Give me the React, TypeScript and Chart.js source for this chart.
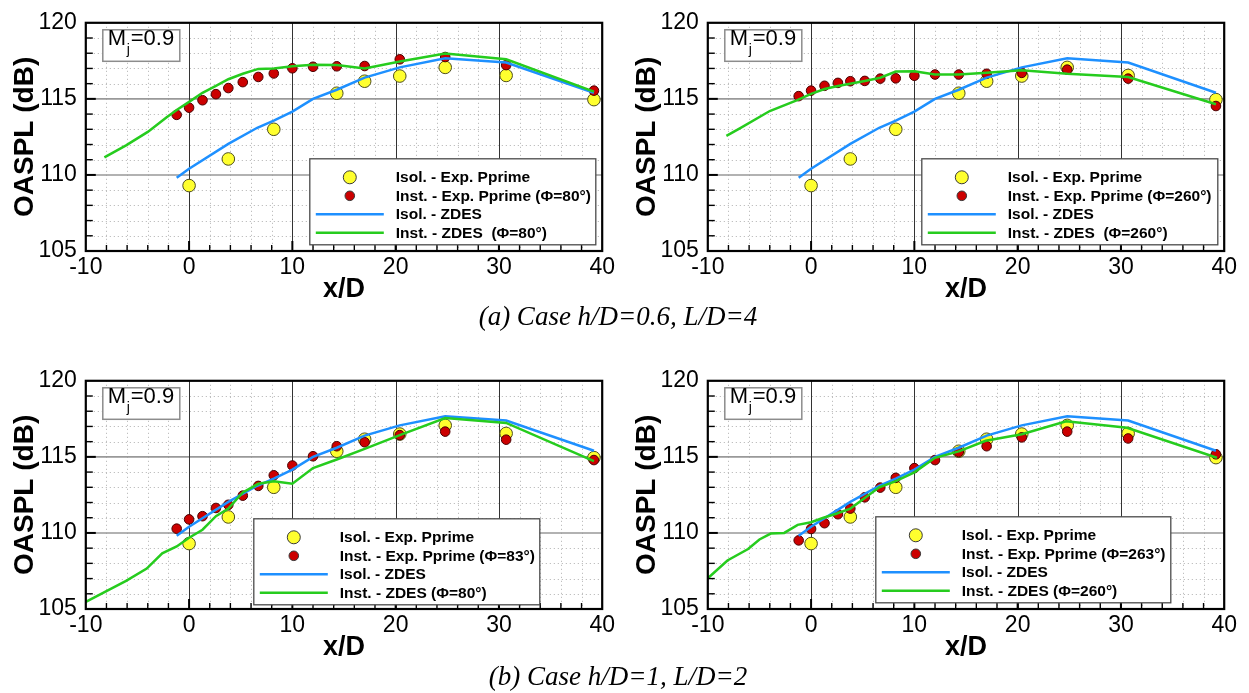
import React, { useEffect, useRef } from "react";
import { Chart, registerables } from "chart.js";

Chart.register(...registerables);

// ---- measured data (x/D, OASPL dB) ----
// microphone stations for the installed-jet measurements
const X_INST_EXP = [-1.2, 0, 1.3, 2.6, 3.8, 5.2, 6.7, 8.2, 10, 12, 14.3, 17, 20.4, 24.8, 30.7, 39.2];
// stations for the isolated-jet measurements
const X_ISOL_EXP = [0, 3.8, 8.2, 14.3, 17, 20.4, 24.8, 30.7, 39.2];
const Y_ISOL_EXP = [109.3, 111.05, 113.0, 115.37, 116.16, 116.5, 117.07, 116.54, 114.95];

const Y_INST_EXP_A = [113.95, 114.42, 114.91, 115.31, 115.71, 116.1, 116.44, 116.67, 117.01, 117.11, 117.14, 117.16, 117.6, 117.75, 117.22, 115.54];
const Y_INST_EXP_B = [115.18, 115.54, 115.86, 116.05, 116.16, 116.18, 116.33, 116.35, 116.52, 116.6, 116.6, 116.65, 116.71, 116.92, 116.33, 114.53];
const Y_INST_EXP_C = [110.28, 110.89, 111.1, 111.64, 111.85, 112.45, 113.09, 113.79, 114.43, 115.04, 115.7, 115.96, 116.43, 116.66, 116.13, 114.79];
const Y_INST_EXP_D = [109.51, 110.26, 110.64, 111.23, 111.6, 112.34, 112.98, 113.62, 114.26, 114.79, 115.32, 115.7, 116.28, 116.66, 116.21, 115.17];

// ---- ZDES simulations ----
const X_ISOL_ZDES = [-1.2, 0, 3.8, 6.6, 8.2, 10, 12, 14.3, 17, 20.4, 24.8, 30.7, 39.2];
const Y_ISOL_ZDES = [109.82, 110.41, 112.04, 113.1, 113.57, 114.16, 115.0, 115.6, 116.4, 117.07, 117.67, 117.39, 115.4];

const X_INST_ZDES_A = [-8.2, -6.1, -4.0, -2.2, -1.2, 0, 1.3, 2.6, 3.8, 5.2, 6.7, 8.2, 10, 12, 14.3, 17, 20.4, 24.8, 30.7, 39.2];
const Y_INST_ZDES_A = [111.15, 111.94, 112.83, 113.78, 114.27, 114.8, 115.4, 115.86, 116.29, 116.65, 116.97, 117.0, 117.14, 117.24, 117.22, 116.99, 117.45, 117.98, 117.6, 115.48];

const X_INST_ZDES_B = [-8.2, -6.9, -4.0, -1.4, 0, 1.3, 2.6, 5.2, 6.7, 8.2, 10, 12, 14.3, 17, 20.4, 24.8, 30.7, 39.2];
const Y_INST_ZDES_B = [112.57, 113.06, 114.2, 114.9, 115.33, 115.65, 115.85, 116.18, 116.39, 116.8, 116.82, 116.6, 116.6, 116.71, 116.88, 116.65, 116.44, 114.65];

const X_INST_ZDES_C = [-10, -6.1, -4.1, -2.6, -1.2, 0, 1.3, 2.6, 3.8, 5.2, 6.7, 8.2, 10, 12, 14.3, 17, 20.4, 24.8, 30.7, 39.2];
const Y_INST_ZDES_C = [105.47, 106.85, 107.66, 108.66, 109.11, 109.68, 110.21, 111.1, 111.6, 112.66, 113.23, 113.4, 113.23, 114.26, 114.83, 115.53, 116.43, 117.55, 117.23, 114.72];

const X_INST_ZDES_D = [-10, -8.1, -6.1, -5.0, -3.9, -2.6, -1.3, 0, 1.2, 2.5, 3.8, 5.2, 6.6, 8.2, 10, 12, 14.3, 16.9, 20.4, 24.7, 30.6, 39.3];
const Y_INST_ZDES_D = [107.02, 108.19, 108.94, 109.57, 109.96, 110.0, 110.53, 110.7, 111.0, 111.28, 111.6, 112.3, 113.0, 113.4, 113.98, 114.94, 115.36, 116.06, 116.49, 117.34, 116.91, 114.94];

// ---- axes ----
const X_MIN = -10;
const X_MAX = 40;
const Y_MIN = 105;
const Y_MAX = 120;
const X_LABEL_STEP = 10;
const Y_LABEL_STEP = 5;
const X_MINOR_STEP = 2;
const Y_MINOR_STEP = 1;

// ---- styling ----
const FONT = "'Liberation Sans', Arial, Helvetica, sans-serif";
const YELLOW = "#ffff2e";
const RED = "#cc0000";
const BLUE = "#1e90ff";
const GREEN = "#26cc1e";

const CANVAS_W = 624;
const CANVAS_H = 305;
const PLOT_LEFT = 85.8;
const PLOT_RIGHT = 602.2;
const PLOT_TOP = 15;
const PLOT_BOTTOM = 251;

type LegendRow = { kind: "marker" | "line"; color: string; r?: number; text: string };

type PanelCfg = {
  key: string;
  left: number;
  top: number;
  instExp: number[];
  zdesX: number[];
  zdesY: number[];
  legendBox: { dx: number; dy: number; w: number; h: number };
  rows: LegendRow[];
};

const pts = (xs: number[], ys: number[]) => xs.map((x, i) => ({ x, y: ys[i] }));

const makeRows = (instExpLabel: string, instZdesLabel: string): LegendRow[] => [
  { kind: "marker", color: YELLOW, r: 6.5, text: "Isol. - Exp. Pprime" },
  { kind: "marker", color: RED, r: 4.8, text: instExpLabel },
  { kind: "line", color: BLUE, text: "Isol. - ZDES" },
  { kind: "line", color: GREEN, text: instZdesLabel },
];

const PANELS: PanelCfg[] = [
  {
    key: "a1",
    left: 0,
    top: 0,
    instExp: Y_INST_EXP_A,
    zdesX: X_INST_ZDES_A,
    zdesY: Y_INST_ZDES_A,
    legendBox: { dx: 224, dy: 136, w: 286, h: 86 },
    rows: makeRows("Inst. - Exp. Pprime (Φ=80°)", "Inst. - ZDES  (Φ=80°)"),
  },
  {
    key: "a2",
    left: 622,
    top: 0,
    instExp: Y_INST_EXP_B,
    zdesX: X_INST_ZDES_B,
    zdesY: Y_INST_ZDES_B,
    legendBox: { dx: 214, dy: 136, w: 296, h: 86 },
    rows: makeRows("Inst. - Exp. Pprime (Φ=260°)", "Inst. - ZDES  (Φ=260°)"),
  },
  {
    key: "b1",
    left: 0,
    top: 358,
    instExp: Y_INST_EXP_C,
    zdesX: X_INST_ZDES_C,
    zdesY: Y_INST_ZDES_C,
    legendBox: { dx: 168, dy: 138, w: 286, h: 86 },
    rows: makeRows("Inst. - Exp. Pprime (Φ=83°)", "Inst. - ZDES (Φ=80°)"),
  },
  {
    key: "b2",
    left: 622,
    top: 358,
    instExp: Y_INST_EXP_D,
    zdesX: X_INST_ZDES_D,
    zdesY: Y_INST_ZDES_D,
    legendBox: { dx: 168, dy: 136, w: 295, h: 86 },
    rows: makeRows("Inst. - Exp. Pprime (Φ=263°)", "Inst. - ZDES (Φ=260°)"),
  },
];

// grid, frame, inward ticks, Mach box, legend and axis titles
const framePlugin = {
  id: "frame",
  beforeDatasetsDraw(chart: any) {
    const { ctx, chartArea: a, scales } = chart;
    const xs = scales.x;
    const ys = scales.y;
    ctx.save();
    ctx.lineWidth = 1;
    ctx.strokeStyle = "#b0b0b0";
    ctx.setLineDash([1, 3]);
    for (let v = X_MIN + X_MINOR_STEP; v < X_MAX; v += X_MINOR_STEP) {
      if (v % X_LABEL_STEP === 0) continue;
      const px = Math.round(xs.getPixelForValue(v)) + 0.5;
      ctx.beginPath();
      ctx.moveTo(px, a.top);
      ctx.lineTo(px, a.bottom);
      ctx.stroke();
    }
    for (let v = Y_MIN + Y_MINOR_STEP; v < Y_MAX; v += Y_MINOR_STEP) {
      if (v % Y_LABEL_STEP === 0) continue;
      const py = Math.round(ys.getPixelForValue(v)) + 0.5;
      ctx.beginPath();
      ctx.moveTo(a.left, py);
      ctx.lineTo(a.right, py);
      ctx.stroke();
    }
    ctx.setLineDash([]);
    ctx.strokeStyle = "#999999";
    ctx.lineWidth = 1.6;
    for (let v = Y_MIN + Y_LABEL_STEP; v < Y_MAX; v += Y_LABEL_STEP) {
      const py = ys.getPixelForValue(v);
      ctx.beginPath();
      ctx.moveTo(a.left, py);
      ctx.lineTo(a.right, py);
      ctx.stroke();
    }
    ctx.strokeStyle = "#333333";
    ctx.lineWidth = 1;
    for (let v = X_MIN + X_LABEL_STEP; v < X_MAX; v += X_LABEL_STEP) {
      const px = Math.round(xs.getPixelForValue(v)) + 0.5;
      ctx.beginPath();
      ctx.moveTo(px, a.top);
      ctx.lineTo(px, a.bottom);
      ctx.stroke();
    }
    ctx.restore();
  },
  afterDatasetsDraw(chart: any, _args: any, opts: any) {
    const { ctx, chartArea: a, scales } = chart;
    const xs = scales.x;
    const ys = scales.y;
    ctx.save();

    // inward tick marks
    ctx.strokeStyle = "#000";
    for (let v = X_MIN + X_MINOR_STEP; v < X_MAX; v += X_MINOR_STEP) {
      const major = v % X_LABEL_STEP === 0;
      const px = xs.getPixelForValue(v);
      ctx.lineWidth = major ? 2 : 1.4;
      ctx.beginPath();
      ctx.moveTo(px, a.bottom);
      ctx.lineTo(px, a.bottom - (major ? 10 : 6));
      ctx.stroke();
    }
    for (let v = Y_MIN + Y_MINOR_STEP; v < Y_MAX; v += Y_MINOR_STEP) {
      const major = v % Y_LABEL_STEP === 0;
      const py = ys.getPixelForValue(v);
      ctx.lineWidth = major ? 2 : 1.4;
      ctx.beginPath();
      ctx.moveTo(a.left, py);
      ctx.lineTo(a.left + (major ? 10 : 7), py);
      ctx.stroke();
    }

    // frame
    ctx.lineWidth = 2.2;
    ctx.strokeStyle = "#000";
    ctx.strokeRect(a.left, a.top, a.right - a.left, a.bottom - a.top);

    // Mach number box
    const mx = a.left + 17;
    const my = a.top + 7;
    ctx.fillStyle = "#fff";
    ctx.fillRect(mx, my, 77, 31.5);
    ctx.strokeStyle = "#8c8c8c";
    ctx.lineWidth = 1.5;
    ctx.strokeRect(mx, my, 77, 31.5);
    ctx.fillStyle = "#000";
    ctx.textAlign = "left";
    ctx.textBaseline = "alphabetic";
    ctx.font = `22px ${FONT}`;
    let tx = a.left + 22;
    const base = a.top + 22.5;
    ctx.fillText("M", tx, base);
    tx += ctx.measureText("M").width + 0.5;
    ctx.font = `14px ${FONT}`;
    ctx.fillText("j", tx, base + 9);
    tx += ctx.measureText("j").width + 1;
    ctx.font = `22px ${FONT}`;
    ctx.fillText("=0.9", tx, base);

    // legend
    const lb = opts.legendBox;
    const lx = a.left + lb.dx;
    const ly = a.top + lb.dy;
    ctx.fillStyle = "#fff";
    ctx.fillRect(lx, ly, lb.w, lb.h);
    ctx.strokeStyle = "#4a4a4a";
    ctx.lineWidth = 1.3;
    ctx.strokeRect(lx, ly, lb.w, lb.h);
    const rowY = [18.5, 37, 55.5, 74];
    (opts.rows as LegendRow[]).forEach((row, i) => {
      const cy = ly + rowY[i];
      if (row.kind === "marker") {
        ctx.beginPath();
        ctx.arc(lx + 40, cy, row.r || 5, 0, Math.PI * 2);
        ctx.fillStyle = row.color;
        ctx.fill();
        ctx.lineWidth = 1;
        ctx.strokeStyle = "#3a3a3a";
        ctx.stroke();
      } else {
        ctx.beginPath();
        ctx.moveTo(lx + 6, cy);
        ctx.lineTo(lx + 74, cy);
        ctx.lineWidth = 2.6;
        ctx.strokeStyle = row.color;
        ctx.stroke();
      }
      ctx.fillStyle = "#000";
      ctx.font = `bold 15.5px ${FONT}`;
      ctx.textBaseline = "middle";
      ctx.fillText(row.text, lx + 86, cy + 0.5);
    });

    // axis titles
    ctx.fillStyle = "#000";
    ctx.textAlign = "center";
    ctx.textBaseline = "middle";
    ctx.font = `bold 27px ${FONT}`;
    ctx.fillText("x/D", (a.left + a.right) / 2, a.bottom + 39);
    ctx.translate(a.left - 62, (a.top + a.bottom) / 2);
    ctx.rotate(-Math.PI / 2);
    ctx.font = `bold 28px ${FONT}`;
    ctx.fillText("OASPL (dB)", 0, 1);
    ctx.restore();
  },
};

function buildConfig(cfg: PanelCfg): any {
  const tickFont = { family: FONT, size: 23 };
  return {
    type: "scatter",
    data: {
      datasets: [
        {
          label: "Isol. - Exp. Pprime",
          data: pts(X_ISOL_EXP, Y_ISOL_EXP),
          showLine: false,
          pointRadius: 6.3,
          pointBackgroundColor: YELLOW,
          pointBorderColor: "#4d4d20",
          pointBorderWidth: 1,
          order: 4,
        },
        {
          label: cfg.rows[1].text,
          data: pts(X_INST_EXP, cfg.instExp),
          showLine: false,
          pointRadius: 4.8,
          pointBackgroundColor: RED,
          pointBorderColor: "#4a0000",
          pointBorderWidth: 1,
          order: 3,
        },
        {
          label: "Isol. - ZDES",
          data: pts(X_ISOL_ZDES, Y_ISOL_ZDES),
          showLine: true,
          borderColor: BLUE,
          borderWidth: 2.5,
          pointRadius: 0,
          order: 2,
        },
        {
          label: cfg.rows[3].text,
          data: pts(cfg.zdesX, cfg.zdesY),
          showLine: true,
          borderColor: GREEN,
          borderWidth: 2.5,
          pointRadius: 0,
          order: 1,
        },
      ],
    },
    options: {
      animation: false,
      responsive: false,
      devicePixelRatio: 1,
      events: [],
      layout: { padding: { top: PLOT_TOP, right: CANVAS_W - PLOT_RIGHT, left: 0, bottom: 0 } },
      plugins: {
        legend: { display: false },
        tooltip: { enabled: false },
        frame: { legendBox: cfg.legendBox, rows: cfg.rows },
      },
      scales: {
        x: {
          type: "linear",
          min: X_MIN,
          max: X_MAX,
          ticks: { stepSize: X_LABEL_STEP, color: "#000", font: tickFont, padding: 3, maxRotation: 0, autoSkip: false },
          grid: { display: false, drawTicks: false },
          border: { display: false },
          afterFit: (s: any) => {
            s.height = CANVAS_H - PLOT_BOTTOM;
          },
        },
        y: {
          type: "linear",
          min: Y_MIN,
          max: Y_MAX,
          ticks: { stepSize: Y_LABEL_STEP, color: "#000", font: tickFont, padding: 9, autoSkip: false },
          grid: { display: false, drawTicks: false },
          border: { display: false },
          afterFit: (s: any) => {
            s.width = PLOT_LEFT;
          },
        },
      },
    },
    plugins: [framePlugin],
  };
}

function Panel({ cfg }: { cfg: PanelCfg }) {
  const ref = useRef<HTMLCanvasElement>(null);
  useEffect(() => {
    if (!ref.current) return;
    const chart = new Chart(ref.current, buildConfig(cfg));
    return () => chart.destroy();
  }, [cfg]);
  return (
    <canvas
      ref={ref}
      width={CANVAS_W}
      height={CANVAS_H}
      style={{ position: "absolute", left: cfg.left, top: cfg.top, width: CANVAS_W, height: CANVAS_H }}
    />
  );
}

const captionStyle = (top: number, size: number): React.CSSProperties => ({
  position: "absolute",
  left: 0,
  width: 1236,
  top,
  height: 34,
  lineHeight: "34px",
  textAlign: "center",
  fontFamily: "'Liberation Serif', 'Times New Roman', serif",
  fontStyle: "italic",
  fontSize: size,
  color: "#000",
  whiteSpace: "nowrap",
});

export default function App() {
  return (
    <div style={{ position: "fixed", left: 0, top: 0, width: 1249, height: 693, background: "#fff", overflow: "hidden" }}>
      {PANELS.map((p) => (
        <Panel key={p.key} cfg={p} />
      ))}
      <div style={captionStyle(299, 27)}>(a) Case h/D=0.6, L/D=4</div>
      <div style={captionStyle(659, 27)}>(b) Case h/D=1, L/D=2</div>
    </div>
  );
}
